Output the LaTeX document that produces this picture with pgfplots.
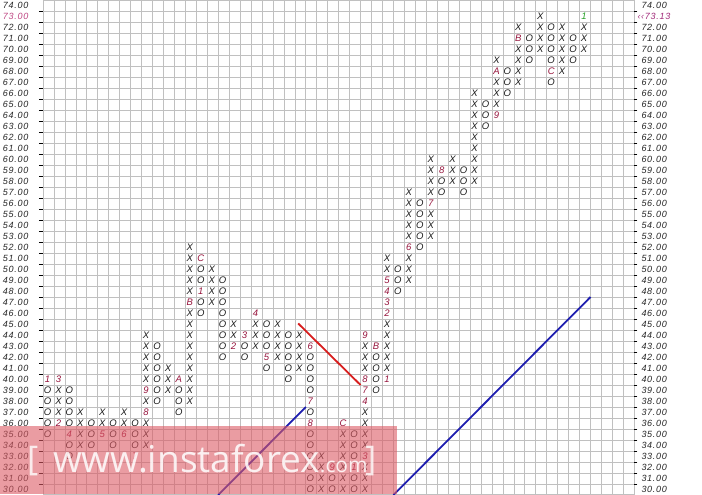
\documentclass[border=0pt]{standalone}
\usepackage{fontspec}
\setmainfont{Liberation Sans}
\newfontfamily\labfont[LetterSpace=8]{Liberation Sans}
\newfontfamily\wmfont{Open Sans}
\usepackage{pgfplots}
\usepackage{pgfplotstable}
\pgfplotsset{compat=1.18}
\definecolor{gridc}{RGB}{192,192,192}
\definecolor{monc}{RGB}{150,20,60}
\definecolor{pinkc}{RGB}{190,70,130}
\definecolor{purc}{RGB}{160,40,120}
\definecolor{greenc}{RGB}{40,160,40}
\definecolor{trendblue}{RGB}{30,30,175}
\definecolor{trendred}{RGB}{215,30,30}
\definecolor{wmpink}{RGB}{220,90,100}
\newcommand\glyphf{\fontsize{9.5}{10}\selectfont\itshape}
\newcommand\tickf{\labfont\itshape\fontsize{9}{9}\selectfont}

% X and O boxes of the point and figure chart: column, price, symbol
\pgfplotstableread[row sep=\\]{
x y t\\
0 35 O\\ 0 36 O\\ 0 37 O\\ 0 38 O\\ 0 39 O\\
1 37 X\\ 1 38 X\\ 1 39 X\\
2 33 O\\ 2 34 O\\ 2 36 O\\ 2 37 O\\ 2 38 O\\ 2 39 O\\
3 34 X\\ 3 35 X\\ 3 36 X\\ 3 37 X\\
4 34 O\\ 4 35 O\\ 4 36 O\\
5 36 X\\ 5 37 X\\
6 34 O\\ 6 35 O\\ 6 36 O\\
7 36 X\\ 7 37 X\\
8 34 O\\ 8 35 O\\ 8 36 O\\
9 34 X\\ 9 35 X\\ 9 36 X\\ 9 38 X\\ 9 40 X\\ 9 41 X\\ 9 42 X\\ 9 43 X\\ 9 44 X\\
10 38 O\\ 10 39 O\\ 10 40 O\\ 10 41 O\\ 10 42 O\\ 10 43 O\\
11 39 X\\ 11 40 X\\ 11 41 X\\
12 37 O\\ 12 38 O\\ 12 39 O\\
13 38 X\\ 13 39 X\\ 13 40 X\\ 13 41 X\\ 13 42 X\\ 13 43 X\\ 13 44 X\\ 13 45 X\\ 13 46 X\\ 13 48 X\\ 13 49 X\\ 13 50 X\\ 13 51 X\\ 13 52 X\\
14 46 O\\ 14 47 O\\ 14 49 O\\ 14 50 O\\
15 47 X\\ 15 48 X\\ 15 49 X\\ 15 50 X\\
16 42 O\\ 16 43 O\\ 16 44 O\\ 16 45 O\\ 16 46 O\\ 16 47 O\\ 16 48 O\\ 16 49 O\\
17 44 X\\ 17 45 X\\
18 42 O\\ 18 43 O\\
19 43 X\\ 19 44 X\\ 19 45 X\\
20 41 O\\ 20 43 O\\ 20 44 O\\ 20 45 O\\
21 42 X\\ 21 43 X\\ 21 44 X\\ 21 45 X\\
22 40 O\\ 22 41 O\\ 22 42 O\\ 22 43 O\\ 22 44 O\\
23 41 X\\ 23 42 X\\ 23 43 X\\ 23 44 X\\
24 30 O\\ 24 31 O\\ 24 32 O\\ 24 33 O\\ 24 34 O\\ 24 35 O\\ 24 37 O\\ 24 39 O\\ 24 40 O\\ 24 41 O\\ 24 42 O\\
25 30 X\\ 25 31 X\\ 25 32 X\\ 25 33 X\\
26 30 O\\ 26 31 O\\
27 30 X\\ 27 31 X\\ 27 32 X\\ 27 33 X\\ 27 34 X\\ 27 35 X\\
28 30 O\\ 28 31 O\\ 28 33 O\\ 28 34 O\\ 28 35 O\\
29 30 X\\ 29 31 X\\ 29 32 X\\ 29 34 X\\ 29 35 X\\ 29 36 X\\ 29 37 X\\ 29 41 X\\ 29 42 X\\ 29 43 X\\
30 39 O\\ 30 40 O\\ 30 41 O\\ 30 42 O\\
31 41 X\\ 31 42 X\\ 31 43 X\\ 31 44 X\\ 31 45 X\\ 31 50 X\\ 31 51 X\\
32 48 O\\ 32 49 O\\ 32 50 O\\
33 49 X\\ 33 50 X\\ 33 51 X\\ 33 53 X\\ 33 54 X\\ 33 55 X\\ 33 56 X\\ 33 57 X\\
34 52 O\\ 34 53 O\\ 34 54 O\\ 34 55 O\\ 34 56 O\\
35 53 X\\ 35 54 X\\ 35 55 X\\ 35 57 X\\ 35 58 X\\ 35 59 X\\ 35 60 X\\
36 57 O\\ 36 58 O\\
37 58 X\\ 37 59 X\\ 37 60 X\\
38 57 O\\ 38 58 O\\ 38 59 O\\
39 58 X\\ 39 59 X\\ 39 60 X\\ 39 61 X\\ 39 62 X\\ 39 63 X\\ 39 64 X\\ 39 65 X\\ 39 66 X\\
40 63 O\\ 40 64 O\\ 40 65 O\\
41 65 X\\ 41 66 X\\ 41 67 X\\ 41 69 X\\
42 66 O\\ 42 67 O\\ 42 68 O\\
43 67 X\\ 43 68 X\\ 43 69 X\\ 43 70 X\\ 43 72 X\\
44 69 O\\ 44 70 O\\ 44 71 O\\
45 70 X\\ 45 71 X\\ 45 72 X\\ 45 73 X\\
46 67 O\\ 46 69 O\\ 46 70 O\\ 46 71 O\\ 46 72 O\\
47 68 X\\ 47 69 X\\ 47 70 X\\ 47 71 X\\ 47 72 X\\
48 69 O\\ 48 70 O\\ 48 71 O\\
49 70 X\\ 49 71 X\\ 49 72 X\\
}\xo

% month markers (1..9, A, B, C)
\pgfplotstableread[row sep=\\]{
x y t\\
0 40 1\\ 1 36 2\\ 1 40 3\\ 2 35 4\\ 5 35 5\\ 7 35 6\\ 8 33 7\\ 9 37 8\\ 9 39 9\\
12 40 A\\ 13 47 B\\ 14 51 C\\ 14 48 1\\ 17 43 2\\ 18 44 3\\ 19 46 4\\ 20 42 5\\
24 43 6\\ 24 38 7\\ 24 36 8\\ 26 32 9\\ 27 36 C\\ 28 32 1\\
29 33 3\\ 29 38 4\\ 29 39 7\\ 29 40 8\\ 29 44 9\\ 30 43 B\\
31 40 1\\ 31 46 2\\ 31 47 3\\ 31 48 4\\ 31 49 5\\ 33 52 6\\ 35 56 7\\ 36 59 8\\
41 64 9\\ 41 68 A\\ 43 71 B\\ 46 68 C\\
}\months

\pgfplotstableread[row sep=\\]{
x y t\\
49 73 1\\
}\current

\begin{document}
\begin{tikzpicture}
\begin{axis}[name=ax, scale only axis, width=591.3pt, height=494pt,
  xmin=-0.5, xmax=53.5, ymin=29.591, ymax=74.5,
  xtick={0,1,...,53}, xticklabels={}, minor xtick={0.5,1.5,...,52.5},
  ytick={30,31,...,74}, minor ytick={30.5,31.5,...,73.5},
  yticklabels={30.00,31.00,32.00,33.00,34.00,35.00,36.00,37.00,38.00,39.00,40.00,41.00,42.00,43.00,44.00,45.00,46.00,47.00,48.00,49.00,50.00,51.00,52.00,53.00,54.00,55.00,56.00,57.00,58.00,59.00,60.00,61.00,62.00,63.00,64.00,65.00,66.00,67.00,68.00,69.00,70.00,71.00,72.00,\textcolor{pinkc}{73.00},74.00},
  ytick pos=left, yticklabel pos=left,
  tick align=outside, major tick length=0pt, minor tick length=4pt,
  minor tick style={black, line width=0.8pt},
  xmajorgrids=false, ymajorgrids=false, xminorgrids=true, yminorgrids=true,
  minor grid style={gridc, line width=0.7pt},
  axis line style={gridc, line width=0.7pt},
  yticklabel style={font=\tickf, anchor=west, inner sep=0pt, xshift=-40.3pt, text=black!85},
]
\addplot[trendblue, line width=1.8pt] coordinates {(15.5,29.5) (23.5,37.5)};
\addplot[trendblue, line width=1.8pt] coordinates {(31.5,29.5) (49.5,47.5)};
\addplot[trendred, line width=1.8pt] coordinates {(22.8,45.1) (28.5,39.5)};
\addplot[draw=none, nodes near coords, point meta=explicit symbolic,
  nodes near coords style={anchor=center, inner sep=0pt, xshift=-1pt, font=\glyphf, text=black!90}]
  table[x=x, y=y, meta=t]{\xo};
\addplot[draw=none, nodes near coords, point meta=explicit symbolic,
  nodes near coords style={anchor=center, inner sep=0pt, xshift=-1pt, font=\glyphf, text=monc}]
  table[x=x, y=y, meta=t]{\months};
\addplot[draw=none, nodes near coords, point meta=explicit symbolic,
  nodes near coords style={anchor=center, inner sep=0pt, xshift=-1pt, font=\glyphf, text=greenc}]
  table[x=x, y=y, meta=t]{\current};
\end{axis}
\begin{axis}[scale only axis, width=591.3pt, height=494pt,
  xmin=-0.5, xmax=53.5, ymin=29.591, ymax=74.5,
  xtick=\empty,
  ytick={30,31,...,74}, minor ytick={30.5,31.5,...,73.5},
  yticklabels={30.00,31.00,32.00,33.00,34.00,35.00,36.00,37.00,38.00,39.00,40.00,41.00,42.00,43.00,44.00,45.00,46.00,47.00,48.00,49.00,50.00,51.00,52.00,53.00,54.00,55.00,56.00,57.00,58.00,59.00,60.00,61.00,62.00,63.00,64.00,65.00,66.00,67.00,68.00,69.00,70.00,71.00,72.00,\textcolor{purc}{\hspace*{-4pt}‹‹73.13},74.00},
  ytick pos=right, yticklabel pos=right,
  tick align=outside, major tick length=0pt, minor tick length=3pt,
  minor tick style={black, line width=0.8pt},
  axis line style={draw=none},
  yticklabel style={font=\tickf, anchor=west, inner sep=0pt, xshift=7pt, text=black!85},
]
\end{axis}
% watermark
\fill[wmpink, opacity=0.6] ([xshift=-43pt]ax.south west) rectangle ([xshift=354pt,yshift=68pt]ax.south west);
\node[anchor=base west, inner sep=0pt, text=white, opacity=0.85, font=\wmfont\fontsize{37}{37}\selectfont]
  at ([xshift=10pt,yshift=22pt]ax.south west) {www.instaforex\fontsize{21}{21}\selectfont.com};
\node[anchor=base west, inner sep=0pt, text=white, opacity=0.8, font=\wmfont\fontsize{34}{34}\selectfont]
  at ([xshift=-16pt,yshift=24pt]ax.south west) {[};
\node[anchor=base west, inner sep=0pt, text=white, opacity=0.8, font=\wmfont\fontsize{34}{34}\selectfont]
  at ([xshift=322pt,yshift=24pt]ax.south west) {]};
\pgfresetboundingbox
\path[use as bounding box] ([xshift=-43pt]ax.south west) rectangle ([xshift=67.7pt]ax.north east);
\end{tikzpicture}
\end{document}
